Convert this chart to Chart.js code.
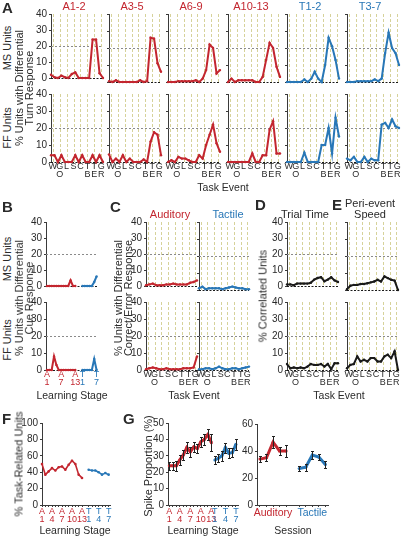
<!DOCTYPE html>
<html><head><meta charset="utf-8">
<script src="https://cdn.jsdelivr.net/npm/chart.js@4"></script>
<style>
html,body{margin:0;padding:0;background:#fff;width:401px;height:537px;overflow:hidden;position:relative;font-family:"Liberation Sans",Arial,sans-serif;color:#222}
canvas{position:absolute}
.t{position:absolute;white-space:nowrap;line-height:1;text-align:center}
</style></head><body>
<script>
// ---------------- DATA ----------------
const EVENT_LABELS = [['W',''],['G','O'],['L',''],['S',''],['C',''],['T','B'],['T','E'],['G','R']];
const EVENT_POS = [0.5,2.5,4.5,6.5,8.5,10.5,12.5,14.5];
const A_TITLES = ['A1-2','A3-5','A6-9','A10-13','T1-2','T3-7'];

// Panel A, MS units (top row)
const A12_MS   = [2,0.5,0,1.5,0.5,0,2.5,3.5,0,0,0,0,24,24,3,0];
const A35_MS   = [0.5,0,1,0,0,0,0,0,0,1,0,0.5,26,25.5,11,6];
const A69_MS   = [0,0,0,0.5,0.5,0.5,0.5,0.5,1,0,2,7,22,20,5,7];
const A1013_MS = [0,2,0,1,1,1,1,1,0,0,3,13,23,20,9,3];
const T12_MS   = [0,0,0,0,0,1.5,0,2,6,2,0,10,26,21,13,2];
const T37_MS   = [0,0,0,0.5,0.5,0.5,0.5,0.5,1.5,0.5,2,17,29,20,17,10];
// Panel A, FF units (bottom row)
const A12_FF   = [4,4,0,4,0,0,0,4,0,4,0,0,4,0,4,0];
const A35_FF   = [4.5,0,2,0,4,0,2,0,0,0,1.5,0,12,17.5,16,4];
const A69_FF   = [0,1,0,3,2,2,1,0,0,4,2,10,16,22,11,6];
const A1013_FF = [0,0,0,0,0,0,0,5,0,0,4,4,19,24,5,5];
const T12_FF   = [0,0,0,0,0,5.5,0,0,0,0,10,10,20,5,26,15];
const T37_FF   = [2,1,3,0,0,3,0,2,1,1,22,23,20,25,21,20];

// Panel B (learning stages A1..A13, T1..T7)
const B_MS_AUD = [0,0,0,0,0,0,0,0,0,0,3.5,0,0];
const B_MS_TAC = [0,0,0,0,0,2.5,6];
const B_FF_AUD = [0,0,0,8,3,0,0,0,0,0,0,0,0];
const B_FF_TAC = [0,0,0,0,0,6.5,0];

// Panel C
const C_AUD_MS = [0.5,1,1.5,0.5,0.5,0.5,1,1,1.5,1,1,1,1,2,2.5,3.5];
const C_TAC_MS = [1,2,0.5,1,1,1,1,0.5,1,1.5,2,1.5,1,1,0.5,0.5];
const C_AUD_FF = [0.5,1,1.5,1,0.5,0.5,1,0.5,0.5,0.5,0.5,1,1,1,1.5,8];
const C_TAC_FF = [0.5,0.5,1,1,0.5,1,2,1,0.5,0.5,1,1,0.5,1,1.5,2];

// Panels D, E
const D_MS = [1,1,0.5,1.5,1.5,1.5,1.5,2,4,5,5.5,3,4,5.5,3.5,2.5];
const E_MS = [0.5,2.5,3,3,3.5,3.5,4,4.5,5,6,5,8,7,6,5.5,0];
const D_FF = [3.5,1,1.5,1,1.5,1,2,3.5,3,3,3.5,2,3.5,0.5,4,4];
const E_FF = [1,3,3.5,8,5,6,5,7,7,5,5,8,9,7,11,0];

// Panel F
const F_AUD = [50,37,41,45,42,46,47,43,49,54,50,37,33];
const F_TAC = [43,42,42,40,37,39,37];

// Panel G (left: learning stage; right: session)
const G_AUD     = [24,24,24,27.5,30.5,35,32.5,35.5,34.5,38.5,40,43,38];
const G_AUD_ERR = [2.5,2.5,3,3,3,3.5,3,3,3,3,3.5,3.5,5];
const G_TAC     = [27.5,28.5,30,35,31.5,32,37];
const G_TAC_ERR = [2.5,2.5,3,3,3,3,3.5];
const GS_AUD     = [34,35,46.5,40,40];
const GS_AUD_ERR = [2.5,2.5,4.5,3,4.5];
const GS_TAC     = [27,28,37,35.5,30];
const GS_TAC_ERR = [2,2.5,3,2.5,2.5];

// ---------------- STYLE / HELPERS ----------------
const RED='#c3262f', BLUE='#2877b7', AX='#3a3a3a', TXT='#2a2a2a';
const FONT='"Liberation Sans", Arial, sans-serif';

const refPlugin={id:'ref',
  beforeDatasetsDraw(chart,args,o){
    const {ctx,chartArea:a,scales:{x,y}}=chart; ctx.save(); ctx.lineWidth=1;
    (o.v||[]).forEach(v=>{const px=Math.round(x.getPixelForValue(v))+0.5;ctx.strokeStyle='#d6d29a';ctx.setLineDash([3,2]);ctx.beginPath();ctx.moveTo(px,a.top);ctx.lineTo(px,a.bottom);ctx.stroke();});
    (o.h||[]).forEach(h=>{const py=Math.round(y.getPixelForValue(h.v))+0.5;ctx.strokeStyle=h.c;ctx.setLineDash(h.d||[2,2]);ctx.beginPath();ctx.moveTo(a.left,py);ctx.lineTo(a.right,py);ctx.stroke();});
    ctx.restore();
  },
  afterDatasetsDraw(chart){
    const {ctx,scales:{y}}=chart; ctx.save(); ctx.strokeStyle='#222'; ctx.lineWidth=1; ctx.setLineDash([]);
    chart.data.datasets.forEach((ds,i)=>{ if(!ds.err) return; const meta=chart.getDatasetMeta(i);
      meta.data.forEach((pt,j)=>{ const v=ds.data[j].y,e=ds.err[j]; const x=Math.round(pt.x)+0.5;
        const y1=Math.round(y.getPixelForValue(v+e))+0.5,y2=Math.round(y.getPixelForValue(v-e))+0.5;
        ctx.beginPath(); ctx.moveTo(x,y1);ctx.lineTo(x,y2);
        ctx.moveTo(x-1.5,y1);ctx.lineTo(x+1.5,y1);ctx.moveTo(x-1.5,y2);ctx.lineTo(x+1.5,y2);ctx.stroke();});
    }); ctx.restore();
  }
};

function plot(p){
  const padL=p.padL??26,padR=p.padR??8,padT=p.padT??8,padB=p.padB??22;
  const W=Math.round(p.w+padL+padR),H=Math.round(p.h+padT+padB);
  const cv=document.createElement('canvas'); cv.width=W; cv.height=H;
  cv.style.left=(p.x-padL)+'px'; cv.style.top=(p.y-padT)+'px'; cv.style.width=W+'px'; cv.style.height=H+'px';
  document.body.appendChild(cv);
  const xt=p.xTicks||[];
  new Chart(cv,{type:'line',
    data:{datasets:p.series.map(s=>({data:s.v.map((v,i)=>({x:s.x0+i,y:v})),borderColor:s.c,backgroundColor:s.c,
      borderWidth:s.bw||2,pointRadius:s.pr??1.2,pointBorderWidth:0,pointBackgroundColor:s.c,tension:0,fill:false,clip:8,err:s.err}))},
    options:{responsive:false,animation:false,events:[],
      layout:{padding:{left:0,right:padR,top:padT,bottom:0}},
      plugins:{legend:{display:false},tooltip:{enabled:false},ref:{v:p.vlines||[],h:p.hlines||[]}},
      scales:{
        x:{type:'linear',min:p.xMin,max:p.xMax,
          afterFit:s=>{s.height=padB;}, afterBuildTicks:s=>{s.ticks=xt.map(t=>({value:t.v}));},
          ticks:{autoSkip:false,maxRotation:0,minRotation:0,padding:p.xPad??1,
            font:c=>{const t=xt[c.index];return {family:FONT,size:(t&&t.s)||9,lineHeight:0.82};},
            color:c=>{const t=xt[c.index];return (t&&t.c)||TXT;},
            callback:(v,i)=>xt[i]?xt[i].l:''},
          grid:{display:!!p.xAxis,drawOnChartArea:false,drawTicks:!!p.xAxis,tickLength:2,color:AX},
          border:{display:!!p.xAxis,color:AX,width:1}},
        y:{type:'linear',min:p.yMin??0,max:p.yMax,
          afterFit:s=>{s.width=padL;}, afterBuildTicks:s=>{s.ticks=p.yTicks.map(v=>({value:v}));},
          ticks:{display:!!p.yLabels,padding:2,font:{family:FONT,size:10},color:TXT},
          grid:{drawOnChartArea:false,drawTicks:true,tickLength:2,color:AX},
          border:{color:AX,width:1}}
      }},
    plugins:[refPlugin]});
}

function txt(s,o){
  const d=document.createElement('div'); d.className='t'; d.innerHTML=s;
  const size=o.size||10.5;
  d.style.fontSize=size+'px'; d.style.color=o.color||TXT; if(o.bold) d.style.fontWeight='bold';
  d.style.lineHeight=(o.lh||1);
  if(o.rot){ d.style.left=o.x+'px'; d.style.top=o.y+'px'; d.style.transform='translate(-50%,-50%) rotate(-90deg)'; }
  else { d.style.left=o.x+'px'; d.style.top=(o.y-0.13*size)+'px'; if(o.align!=='left') d.style.transform='translate(-50%,0)'; }
  document.body.appendChild(d);
}

const H_LINES=[{v:20,c:'#8a8a8a',d:[2,2]},{v:0,c:'#1a1a1a',d:[2,1.5]}];
const EV_TICKS=EVENT_POS.map((v,k)=>({v,l:EVENT_LABELS[k]}));
const Y40=[0,10,20,30,40];

// ---------------- PANEL A ----------------
const A_LEFT=[51,109,168,228,287,347];
const A_TCX=[74,132,191,251,310,370];
const A_MS=[A12_MS,A35_MS,A69_MS,A1013_MS,T12_MS,T37_MS];
const A_FF=[A12_FF,A35_FF,A69_FF,A1013_FF,T12_FF,T37_FF];
for(let k=0;k<6;k++){
  const c=k<4?RED:BLUE;
  plot({x:A_LEFT[k],y:14,w:52,h:68,xMin:0,xMax:15,yMax:40,yTicks:Y40,yLabels:k===0,vlines:EVENT_POS,hlines:H_LINES,padB:4,
    series:[{v:A_MS[k],x0:0,c}]});
  plot({x:A_LEFT[k],y:94,w:52,h:68,xMin:0,xMax:15,yMax:40,yTicks:Y40,yLabels:k===0,vlines:EVENT_POS,hlines:H_LINES,
    xTicks:EV_TICKS,series:[{v:A_FF[k],x0:0,c}]});
  txt(A_TITLES[k],{x:A_TCX[k],y:2,size:11,color:c});
}
txt('A',{x:2,y:2,size:15,bold:true,align:'left'});
txt('MS Units',{x:7,y:48,rot:true,size:11});
txt('FF Units',{x:7,y:128,rot:true,size:11});
txt('% Units with Differential<br>Turn Response',{x:24,y:88,rot:true,size:11,lh:0.92});
txt('Task Event',{x:223,y:183,size:10.5});

// ---------------- PANEL B ----------------
const B_TICKS=[{v:0,l:['A','1'],c:RED},{v:6,l:['A','7'],c:RED},{v:12,l:['A','13'],c:RED},{v:15,l:['T','1'],c:BLUE},{v:21,l:['T','7'],c:BLUE}];
plot({x:46,y:222,w:52,h:68,xMin:-0.4,xMax:21.6,yMax:40,yTicks:Y40,yLabels:true,hlines:H_LINES,padB:4,
  series:[{v:B_MS_AUD,x0:0,c:RED},{v:B_MS_TAC,x0:15,c:BLUE}]});
plot({x:46,y:302,w:52,h:68,xMin:-0.4,xMax:21.6,yMax:40,yTicks:Y40,yLabels:true,hlines:H_LINES,xTicks:B_TICKS,
  series:[{v:B_FF_AUD,x0:0,c:RED},{v:B_FF_TAC,x0:15,c:BLUE}]});
txt('B',{x:2,y:201,size:15,bold:true,align:'left'});
txt('MS Units',{x:7,y:259,rot:true,size:11});
txt('FF Units',{x:7,y:340,rot:true,size:11});
txt('% Units with Differential<br>Cue Response',{x:24,y:298,rot:true,size:11,lh:0.92});
txt('Learning Stage',{x:72,y:391,size:10.5});

// ---------------- PANEL C ----------------
plot({x:146,y:222,w:51,h:68,xMin:0,xMax:15,yMax:40,yTicks:Y40,yLabels:true,vlines:EVENT_POS,hlines:H_LINES,padB:4,series:[{v:C_AUD_MS,x0:0,c:RED}]});
plot({x:146,y:302,w:51,h:68,xMin:0,xMax:15,yMax:40,yTicks:Y40,yLabels:true,vlines:EVENT_POS,hlines:H_LINES,xTicks:EV_TICKS,series:[{v:C_AUD_FF,x0:0,c:RED}]});
plot({x:199,y:222,w:50,h:68,xMin:0,xMax:15,yMax:40,yTicks:Y40,yLabels:false,vlines:EVENT_POS,hlines:H_LINES,padB:4,series:[{v:C_TAC_MS,x0:0,c:BLUE}]});
plot({x:199,y:302,w:50,h:68,xMin:0,xMax:15,yMax:40,yTicks:Y40,yLabels:false,vlines:EVENT_POS,hlines:H_LINES,xTicks:EV_TICKS,series:[{v:C_TAC_FF,x0:0,c:BLUE}]});
txt('C',{x:110,y:201,size:15,bold:true,align:'left'});
txt('Auditory',{x:170,y:210,size:11,color:RED});
txt('Tactile',{x:228,y:210,size:11,color:BLUE});
txt('% Units with Differential<br>Correct/Error Response',{x:123,y:298,rot:true,size:11,lh:0.92});
txt('Task Event',{x:194,y:391,size:10.5});

// ---------------- PANELS D, E ----------------
plot({x:287,y:222,w:51,h:68,xMin:0,xMax:15,yMax:40,yTicks:Y40,yLabels:true,vlines:EVENT_POS,hlines:H_LINES,padB:4,series:[{v:D_MS,x0:0,c:'#1a1a1a'}]});
plot({x:287,y:302,w:51,h:68,xMin:0,xMax:15,yMax:40,yTicks:Y40,yLabels:true,vlines:EVENT_POS,hlines:H_LINES,xTicks:EV_TICKS,series:[{v:D_FF,x0:0,c:'#1a1a1a'}]});
plot({x:347,y:222,w:51,h:68,xMin:0,xMax:15,yMax:40,yTicks:Y40,yLabels:false,vlines:EVENT_POS,hlines:H_LINES,padB:4,series:[{v:E_MS,x0:0,c:'#1a1a1a'}]});
plot({x:347,y:302,w:51,h:68,xMin:0,xMax:15,yMax:40,yTicks:Y40,yLabels:false,vlines:EVENT_POS,hlines:H_LINES,xTicks:EV_TICKS,series:[{v:E_FF,x0:0,c:'#1a1a1a'}]});
txt('D',{x:255,y:199,size:15,bold:true,align:'left'});
txt('E',{x:332,y:199,size:15,bold:true,align:'left'});
txt('Trial Time',{x:305,y:210,size:11});
txt('Peri-event',{x:370,y:199,size:11});
txt('Speed',{x:370,y:210,size:11});
txt('% Correlated Units',{x:263,y:296,rot:true,size:11});
txt('Task Event',{x:339,y:391,size:10.5});

// ---------------- PANEL F ----------------
const F_TICKS=[];
for(let i=0;i<=12;i++) F_TICKS.push({v:i,l:(i%3===0)?['A',String(i+1)]:'',c:RED});
for(let i=0;i<7;i++) F_TICKS.push({v:14+i,l:(i%3===0)?['T',String(i+1)]:'',c:BLUE});
plot({x:42,y:423,w:68,h:82,xMin:0,xMax:20.4,yMax:100,yTicks:[0,20,40,60,80,100],yLabels:true,xAxis:true,xTicks:F_TICKS,
  series:[{v:F_AUD,x0:0,c:RED,bw:1.6,pr:1.3},{v:F_TAC,x0:14,c:BLUE,bw:1.6,pr:1.3}]});
txt('F',{x:2,y:413,size:15,bold:true,align:'left'});
txt('% Task-Related Units',{x:19,y:464,rot:true,size:11});
txt('Learning Stage',{x:75,y:526,size:10.5});

// ---------------- PANEL G ----------------
const G_TICKS=[];
for(let i=0;i<=12;i++) G_TICKS.push({v:i,l:(i%3===0)?['A',String(i+1)]:'',c:RED});
for(let i=0;i<7;i++) G_TICKS.push({v:13+i,l:(i%3===0)?['T',String(i+1)]:'',c:BLUE});
plot({x:168,y:423,w:70,h:82,xMin:-0.37,xMax:19.6,yMax:50,yTicks:[0,10,20,30,40,50],yLabels:true,xAxis:true,xTicks:G_TICKS,
  series:[{v:G_AUD,x0:0,c:RED,bw:3,pr:1.5,err:G_AUD_ERR},{v:G_TAC,x0:13,c:BLUE,bw:3,pr:1.5,err:G_TAC_ERR}]});
const GS_TICKS=[];
for(let i=0;i<=4;i++) GS_TICKS.push({v:i,l:i===2?'Auditory':'',c:RED,s:10.5});
for(let i=6;i<=10;i++) GS_TICKS.push({v:i,l:i===8?'Tactile':'',c:BLUE,s:10.5});
plot({x:257,y:424,w:71,h:81,xMin:-0.45,xMax:10.4,yMax:60,yTicks:[0,20,40,60],yLabels:true,xAxis:true,xTicks:GS_TICKS,xPad:2,
  series:[{v:GS_AUD,x0:0,c:RED,bw:3,pr:1.5,err:GS_AUD_ERR},{v:GS_TAC,x0:6,c:BLUE,bw:3,pr:1.5,err:GS_TAC_ERR}]});
txt('G',{x:123,y:413,size:15,bold:true,align:'left'});
txt('Spike Proportion (%)',{x:148,y:466,rot:true,size:11});
txt('Learning Stage',{x:203,y:526,size:10.5});
txt('Session',{x:293,y:526,size:10.5});
</script>
</body></html>
